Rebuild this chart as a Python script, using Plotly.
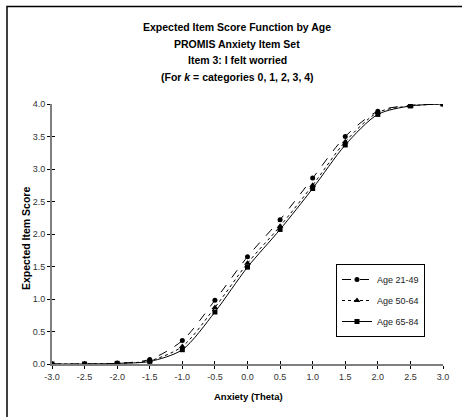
import plotly.graph_objects as go

# Theta grid and expected item scores per age group
theta = [-3.0, -2.5, -2.0, -1.5, -1.0, -0.5, 0.0, 0.5, 1.0, 1.5, 2.0, 2.5, 3.0]
age_21_49 = [0.00, 0.00, 0.01, 0.07, 0.36, 0.98, 1.65, 2.22, 2.86, 3.50, 3.89, 3.98, 4.00]
age_50_64 = [0.00, 0.00, 0.01, 0.05, 0.27, 0.87, 1.55, 2.12, 2.75, 3.42, 3.87, 3.97, 4.00]
age_65_84 = [0.00, 0.00, 0.01, 0.04, 0.22, 0.80, 1.49, 2.07, 2.70, 3.37, 3.84, 3.97, 4.00]

series_names = ["Age 21-49", "Age 50-64", "Age 65-84"]
x_ticks = [-3.0, -2.5, -2.0, -1.5, -1.0, -0.5, 0.0, 0.5, 1.0, 1.5, 2.0, 2.5, 3.0]
y_ticks = [0.0, 0.5, 1.0, 1.5, 2.0, 2.5, 3.0, 3.5, 4.0]

FONT = "Liberation Sans, Arial, sans-serif"

# plot-area geometry in pixels (used to place paper-referenced text)
L, R, T, B = 52, 443, 104, 364
W, H = R - L, B - T


def px_x(px):
    return (px - L) / W


def px_y(py):
    return (B - py) / H


fig = go.Figure()
styles = [
    (age_21_49, "dash", "circle", 5),
    (age_50_64, "dot", "triangle-up", 6),
    (age_65_84, "solid", "square", 5),
]
for name, (vals, dash, sym, msize) in zip(series_names, styles):
    fig.add_trace(go.Scatter(
        x=theta, y=vals, name=name, legendgroup=name, mode="lines+markers",
        line=dict(color="black", width=1, dash=dash, shape="spline", smoothing=0.8),
        marker=dict(symbol=sym, size=msize, color="black"),
    ))

axis_common = dict(
    showgrid=False, zeroline=False, showline=True,
    linecolor="#7f7f7f", linewidth=2,
    ticks="outside", ticklen=3, tickwidth=1, tickcolor="black",
    tickfont=dict(family=FONT, size=9, color="#333333"),
)
fig.update_layout(
    width=462, height=417,
    margin=dict(l=L, r=462 - R, t=T, b=417 - B),
    paper_bgcolor="white", plot_bgcolor="white",
    font=dict(family=FONT, color="black"),
    showlegend=True,
    legend=dict(
        x=px_x(336), y=px_y(264), xanchor="left", yanchor="top",
        bordercolor="black", borderwidth=1, bgcolor="white",
        font=dict(family=FONT, size=9, color="#222222"),
        itemwidth=30, tracegroupgap=2,
    ),
    xaxis=dict(
        range=[-3, 3], tickvals=x_ticks, ticktext=[f"{v:.1f}" for v in x_ticks],
        **axis_common,
    ),
    yaxis=dict(
        range=[0, 4], tickvals=y_ticks, ticktext=[f"{v:.1f}" for v in y_ticks],
        **axis_common,
    ),
    # overlay axes give the crossing tick marks
    xaxis2=dict(range=[-3, 3], overlaying="x", tickvals=x_ticks, showticklabels=False,
                showgrid=False, zeroline=False, showline=False, ticks="inside",
                ticklen=3, tickwidth=1, tickcolor="black", anchor="y"),
    yaxis2=dict(range=[0, 4], overlaying="y", tickvals=y_ticks, showticklabels=False,
                showgrid=False, zeroline=False, showline=False, ticks="inside",
                ticklen=3, tickwidth=1, tickcolor="black", anchor="x"),
)
# invisible trace so the overlay axes are drawn
fig.add_trace(go.Scatter(x=[theta[0]], y=[age_21_49[0]], xaxis="x2", yaxis="y2",
                         mode="markers", marker=dict(opacity=0), showlegend=False,
                         hoverinfo="skip"))

title_lines = [
    "<b>Expected Item Score Function by Age</b>",
    "<b>PROMIS Anxiety Item Set</b>",
    "<b>Item 3: I felt worried</b>",
    "<b>(For <i>k</i> = categories 0, 1, 2, 3, 4)</b>",
]
title_y = [27, 44, 60, 77]
for txt, py in zip(title_lines, title_y):
    fig.add_annotation(
        text=txt, xref="paper", yref="paper", x=px_x(237), y=px_y(py),
        xanchor="center", yanchor="middle", showarrow=False,
        font=dict(family=FONT, size=10.5, color="black"),
    )

# axis titles
fig.add_annotation(
    text="<b>Anxiety (Theta)</b>", xref="paper", yref="paper",
    x=px_x(248), y=px_y(396), xanchor="center", yanchor="middle", showarrow=False,
    font=dict(family=FONT, size=9.5, color="black"),
)
fig.add_annotation(
    text="<b>Expected Item Score</b>", xref="paper", yref="paper",
    x=px_x(26), y=px_y(238), xanchor="center", yanchor="middle", showarrow=False,
    textangle=-90, font=dict(family=FONT, size=10.5, color="black"),
)

# outer chart frame (only top and left edges fall inside the page)
fig.add_shape(type="rect", xref="paper", yref="paper",
              x0=px_x(7), x1=px_x(520), y0=px_y(480), y1=px_y(6.5),
              line=dict(color="black", width=1.5), layer="below")

fig.write_html("out.html")
